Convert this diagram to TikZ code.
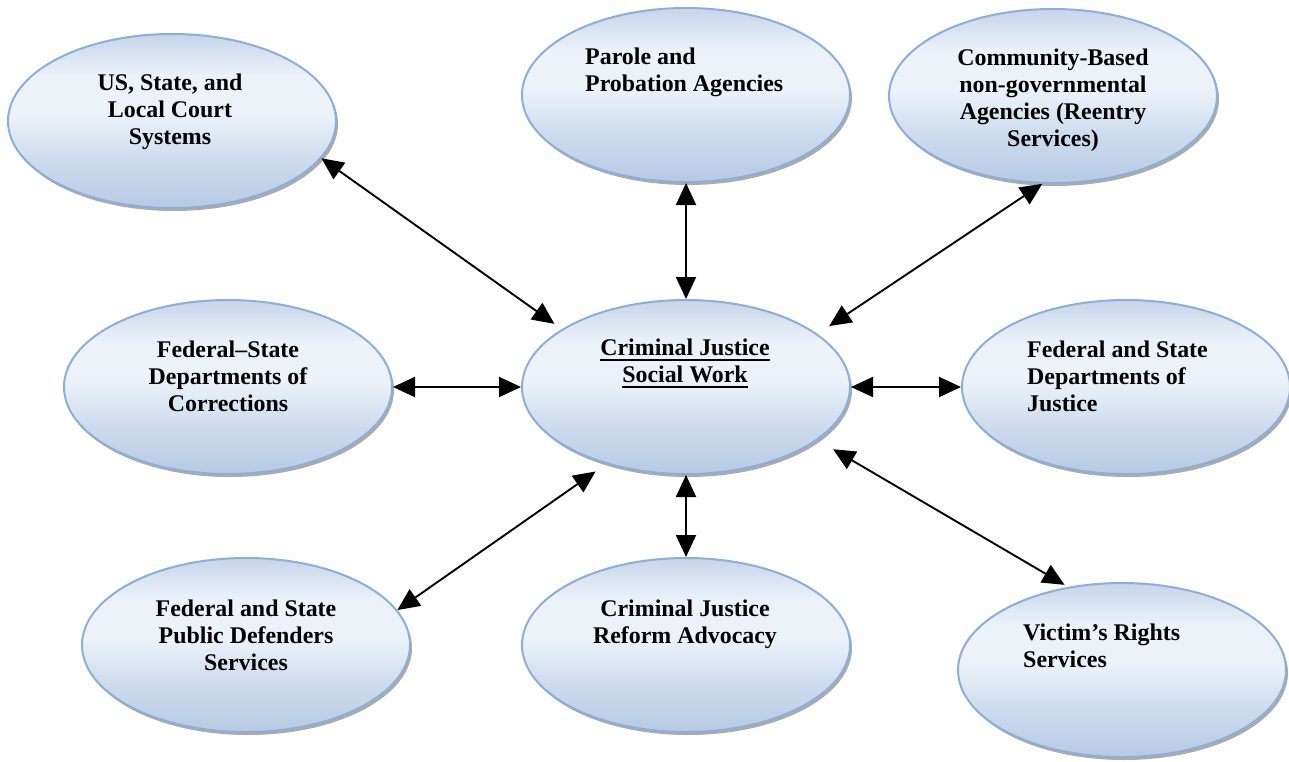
\documentclass[tikz,border=0pt]{standalone}
\usepackage{fontspec}
\setmainfont{Liberation Serif}
\usetikzlibrary{arrows.meta,shadows,shapes.geometric}
\definecolor{cB}{RGB}{182,202,228}
\definecolor{cB2}{RGB}{204,218,237}
\definecolor{cL}{RGB}{237,242,249}
\definecolor{cT}{RGB}{198,212,234}
\definecolor{bord}{RGB}{140,174,216}
\pgfdeclareverticalshading{ellshade}{100bp}{color(0bp)=(cB); color(25bp)=(cB); color(38bp)=(cB2); color(52bp)=(cL); color(63bp)=(cL); color(75bp)=(cT); color(100bp)=(cT)}
\newsavebox\ulbox
\newcommand\myul[1]{\sbox\ulbox{#1}\rlap{\rule[-5pt]{\wd\ulbox}{2pt}}\usebox\ulbox}
\tikzset{
  ell/.style={ellipse, minimum width=328pt, minimum height=174pt, inner sep=0pt,
    draw=bord, line width=2pt, shade, shading=ellshade,
    drop shadow={shadow xshift=2pt, shadow yshift=-3pt, fill=black!55, opacity=0.6}},
  lbl/.style={inner sep=0pt, font=\fontsize{23.9}{27}\selectfont\bfseries},
  link/.style={line width=1.9pt, {Triangle[length=22pt,width=20pt]}-{Triangle[length=22pt,width=20pt]}},
}
\begin{document}
\begin{tikzpicture}[x=1pt,y=-1pt]
\useasboundingbox (0,0) rectangle (1289,761);
% ellipses
\node[ell] (us) at (172,121) {};
\node[ell] (parole) at (686,95) {};
\node[ell] (comm) at (1053,96) {};
\node[ell] (cj) at (686,387) {};
\node[ell] (doc) at (228,387) {};
\node[ell] (doj) at (1126,387) {};
\node[ell] (pd) at (246,645) {};
\node[ell] (adv) at (686,645) {};
\node[ell] (vic) at (1122,670) {};
% labels
\node[lbl, anchor=north, align=center] (usT) at (170,74) {US, State, and\\Local Court\\Systems};
\node[lbl, anchor=north west, align=left] (paroleT) at (585,48) {Parole and\\Probation Agencies};
\node[lbl, anchor=north, align=center] (commT) at (1053,49) {Community-Based\\non-governmental\\Agencies (Reentry\\Services)};
\node[lbl, anchor=north, align=center] (cjT) at (685,339) {\myul{Criminal Justice}\\\myul{Social Work}};
\node[lbl, anchor=north, align=center] (docT) at (228,341) {Federal--State\\Departments of\\Corrections};
\node[lbl, anchor=north west, align=left] (dojT) at (1027,341) {Federal and State\\Departments of\\Justice};
\node[lbl, anchor=north, align=center] (pdT) at (246,600) {Federal and State\\Public Defenders\\Services};
\node[lbl, anchor=north, align=center] (advT) at (685,600) {Criminal Justice\\Reform Advocacy};
\node[lbl, anchor=north west, align=left] (vicT) at (1023,624) {Victim’s Rights\\Services};
% connectors
\draw[link, shorten >=9pt] (us.-14) -- (cj.155.7);
\draw[link] (parole.south) -- (cj.north);
\draw[link, shorten >=14pt] (comm.263.4) -- (cj.22.1);
\draw[link] (doc.east) -- (cj.west);
\draw[link] (cj.east) -- (doj.west);
\draw[link, shorten >=13pt] (pd.13.5) -- (cj.224.7);
\draw[link] (cj.south) -- (adv.north);
\draw[link, shorten <=18pt, shorten >=4pt] (cj.-22.8) -- (vic.123.8);
\end{tikzpicture}
\end{document}
